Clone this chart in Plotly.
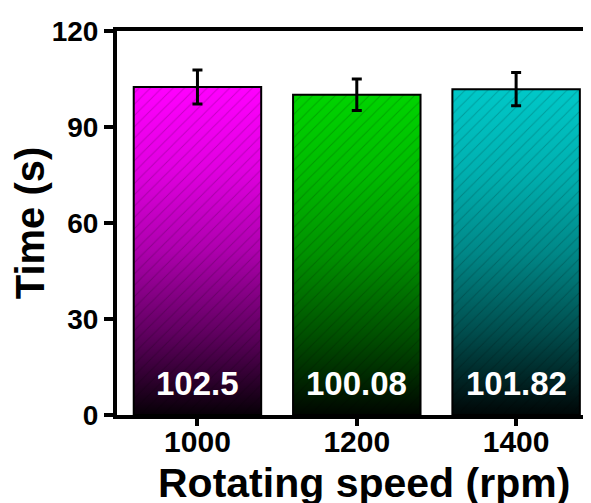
import plotly.graph_objects as go

# ---- data ----
categories = ["1000", "1200", "1400"]
times = [102.5, 100.08, 101.82]
errors = [5.3, 4.9, 5.2]
value_labels = ["102.5", "100.08", "101.82"]
top_colors = ["#FF00FF", "#00D400", "#00C8C8"]

y_ticks = [0, 30, 60, 90, 120]

FONT = "Liberation Sans, Arial, sans-serif"


def shade(hex_color, f):
    h = hex_color.lstrip("#")
    r, g, b = (int(h[i:i + 2], 16) for i in (0, 2, 4))
    return "rgb(%d,%d,%d)" % (r * f, g * f, b * f)


fig = go.Figure()
half = 0.4
xs = list(range(len(categories)))

for i, (v, c) in enumerate(zip(times, top_colors)):
    bx = [xs[i] - half, xs[i] + half, xs[i] + half, xs[i] - half, xs[i] - half]
    by = [0, 0, v, v, 0]
    # gradient body
    fig.add_trace(go.Scatter(
        x=bx, y=by, mode="lines", line=dict(width=0),
        fill="toself",
        fillgradient=dict(
            type="vertical",
            colorscale=[[0, shade(c, 0.03)], [0.25, shade(c, 0.38)],
                        [0.5, shade(c, 0.68)], [0.75, shade(c, 0.88)],
                        [1, shade(c, 1.0)]],
        ),
        hoverinfo="skip", showlegend=False,
    ))
    # hatch overlay + outline
    fig.add_trace(go.Scatter(
        x=bx, y=by, mode="lines", line=dict(width=2, color="black"),
        fill="toself", fillcolor="rgba(0,0,0,0)",
        fillpattern=dict(shape="/", fgcolor="rgba(0,0,0,0.38)", size=8,
                         solidity=0.12, fillmode="overlay"),
        hoverinfo="skip", showlegend=False,
    ))

# error bars
fig.add_trace(go.Scatter(
    x=xs, y=times, mode="markers",
    marker=dict(size=1, color="rgba(0,0,0,0)"),
    error_y=dict(type="data", array=errors, visible=True,
                 color="black", thickness=3, width=5),
    showlegend=False,
))

for i, lab in enumerate(value_labels):
    fig.add_annotation(
        x=xs[i], y=0, text="<b>%s</b>" % lab, showarrow=False,
        yanchor="middle", yshift=32,
        font=dict(family=FONT, size=33, color="white"),
    )

# x-axis title (centred as in the reference, whose plot area runs past the right edge)
fig.add_annotation(
    xref="paper", yref="paper", x=0.521, y=0, xanchor="center", yanchor="top",
    yshift=-43, text="<b>Rotating speed (rpm)</b>", showarrow=False,
    font=dict(family=FONT, size=41, color="black"),
)

fig.update_layout(
    width=583, height=495,
    margin=dict(l=109, r=0, t=23, b=88),
    paper_bgcolor="white", plot_bgcolor="white",
    font=dict(family=FONT, color="black"),
)

fig.update_xaxes(
    range=[-0.505, 2.47],
    tickmode="array", tickvals=xs, ticktext=["<b>%s</b>" % c for c in categories],
    tickfont=dict(family=FONT, size=30, color="black"),
    ticks="outside", ticklen=7, tickwidth=4, tickcolor="black",
    ticklabelstandoff=-10,
    showline=True, linewidth=4, linecolor="black", mirror=True,
    showgrid=False, zeroline=False,
)

fig.update_yaxes(
    range=[0, 120],
    tickmode="array", tickvals=y_ticks, ticktext=["<b>%d</b>" % t for t in y_ticks],
    tickfont=dict(family=FONT, size=28, color="black"),
    ticks="outside", ticklen=9, tickwidth=4, tickcolor="black",
    showline=True, linewidth=4, linecolor="black",
    showgrid=False, zeroline=False,
    title=dict(text="<b>Time (s)</b>",
               font=dict(family=FONT, size=40, color="black"), standoff=0),
)

fig.write_html("out.html")
